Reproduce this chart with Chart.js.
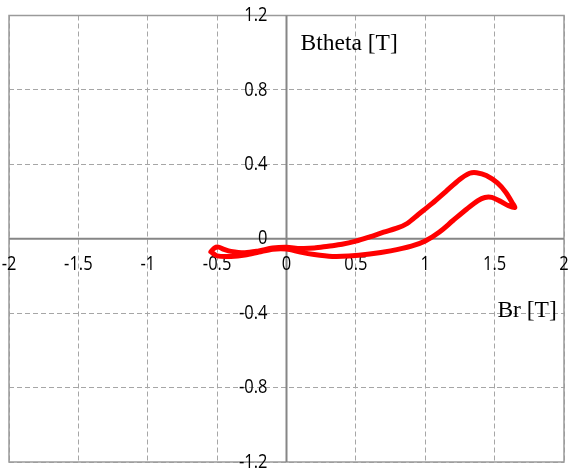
<!DOCTYPE html>
<html>
<head>
<meta charset="utf-8">
<script src="https://cdn.jsdelivr.net/npm/chart.js@4"></script>
<style>
html,body{margin:0;padding:0;background:#fff;}
#c{display:block;}
</style>
</head>
<body>
<canvas id="c" width="568" height="468"></canvas>
<script>
// Data
const xTicks = [-2, -1.5, -1, -0.5, 0, 0.5, 1, 1.5, 2];
const yTicks = [-1.2, -0.8, -0.4, 0, 0.4, 0.8, 1.2];
const xTickLabels = ["-2", "-1.5", "-1", "-0.5", "0", "0.5", "1", "1.5", "2"];
const yTickLabels = ["-1.2", "-0.8", "-0.4", "0", "0.4", "0.8", "1.2"];
const xTitle = "Br [T]";
const yTitle = "Btheta [T]";

// Upper branch (left tip -> right tip)
const upperBr = [-0.545, -0.52, -0.49, -0.45, -0.4, -0.3, -0.2, -0.1, 0.0, 0.1, 0.2, 0.3, 0.4, 0.5, 0.6, 0.7, 0.8, 0.87, 0.95, 1.05, 1.15, 1.25, 1.32, 1.37, 1.44, 1.52, 1.58, 1.63, 1.645];
const upperBt = [-0.07, -0.05, -0.045, -0.057, -0.068, -0.075, -0.065, -0.05, -0.046, -0.052, -0.05, -0.04, -0.03, -0.013, 0.01, 0.035, 0.058, 0.082, 0.13, 0.19, 0.255, 0.32, 0.352, 0.355, 0.34, 0.3, 0.25, 0.19, 0.168];
// Lower branch (right tip -> left tip)
const lowerBr = [1.6, 1.545, 1.48, 1.43, 1.38, 1.3, 1.2, 1.1, 1.0, 0.9, 0.75, 0.6, 0.45, 0.33, 0.2, 0.1, 0.0, -0.1, -0.2, -0.3, -0.4, -0.5, -0.545];
const lowerBt = [0.178, 0.2, 0.222, 0.222, 0.205, 0.16, 0.098, 0.035, -0.012, -0.04, -0.065, -0.082, -0.093, -0.095, -0.085, -0.072, -0.055, -0.056, -0.072, -0.088, -0.095, -0.092, -0.07];

const points = [];
upperBr.forEach((v, i) => points.push({x: v, y: upperBt[i]}));
lowerBr.forEach((v, i) => points.push({x: v, y: lowerBt[i]}));

function drawTallText(ctx, txt, x, y, align) {
  ctx.save();
  ctx.translate(x, y);
  ctx.scale(1, 1.2);
  ctx.textAlign = align;
  ctx.textBaseline = 'middle';
  ctx.fillText(txt, 0, 0);
  ctx.restore();
}

const axesPlugin = {
  id: 'axesPlugin',
  beforeDatasetsDraw(chart) {
    const {ctx, chartArea: a, scales: {x, y}} = chart;
    const x0 = x.getPixelForValue(0), y0 = y.getPixelForValue(0);
    ctx.save();
    // frame
    ctx.strokeStyle = '#9a9a9a';
    ctx.lineWidth = 1.5;
    ctx.setLineDash([]);
    ctx.strokeRect(a.left, a.top, a.right - a.left, a.bottom - a.top);
    // zero axes
    ctx.strokeStyle = '#868686';
    ctx.lineWidth = 2;
    ctx.beginPath();
    ctx.moveTo(x0, a.top); ctx.lineTo(x0, a.bottom);
    ctx.moveTo(a.left, y0); ctx.lineTo(a.right, y0);
    ctx.stroke();
    // tick labels
    ctx.fillStyle = '#000';
    ctx.font = '16.5px "Open Sans"';
    xTicks.forEach((v, i) => {
      drawTallText(ctx, xTickLabels[i], x.getPixelForValue(v), y0 + 26, 'center');
    });
    yTicks.forEach((v, i) => {
      drawTallText(ctx, yTickLabels[i], x0 - 19, y.getPixelForValue(v), 'right');
    });
    // titles
    ctx.font = '23.5px "Liberation Serif"';
    ctx.textAlign = 'left';
    ctx.textBaseline = 'middle';
    ctx.fillText(yTitle, x0 + 14, y.getPixelForValue(1.05));
    ctx.fillText(xTitle, x.getPixelForValue(1.52), y.getPixelForValue(-0.39));
    ctx.restore();
  }
};

new Chart(document.getElementById('c'), {
  type: 'scatter',
  data: {
    datasets: [{
      data: points,
      showLine: true,
      borderColor: '#ff0000',
      backgroundColor: '#ff0000',
      borderWidth: 5,
      pointRadius: 0,
      tension: 0.3,
      fill: false,
      borderCapStyle: 'round',
      borderJoinStyle: 'round'
    }]
  },
  options: {
    responsive: false,
    animation: false,
    devicePixelRatio: 1,
    layout: {padding: {left: 9, right: 4, top: 15.5, bottom: 6}},
    plugins: {legend: {display: false}, tooltip: {enabled: false}},
    scales: {
      x: {
        type: 'linear', min: -2, max: 2,
        ticks: {display: false, stepSize: 0.5},
        grid: {color: c => c.tick && c.tick.value === 0 ? 'rgba(0,0,0,0)' : '#a6a6a6', drawTicks: false, lineWidth: 1},
        border: {display: false, dash: [5, 3]}
      },
      y: {
        type: 'linear', min: -1.2, max: 1.2,
        ticks: {display: false, stepSize: 0.4},
        grid: {color: c => c.tick && c.tick.value === 0 ? 'rgba(0,0,0,0)' : '#a6a6a6', drawTicks: false, lineWidth: 1},
        border: {display: false, dash: [5, 3]}
      }
    }
  },
  plugins: [axesPlugin]
});
</script>
</body>
</html>
